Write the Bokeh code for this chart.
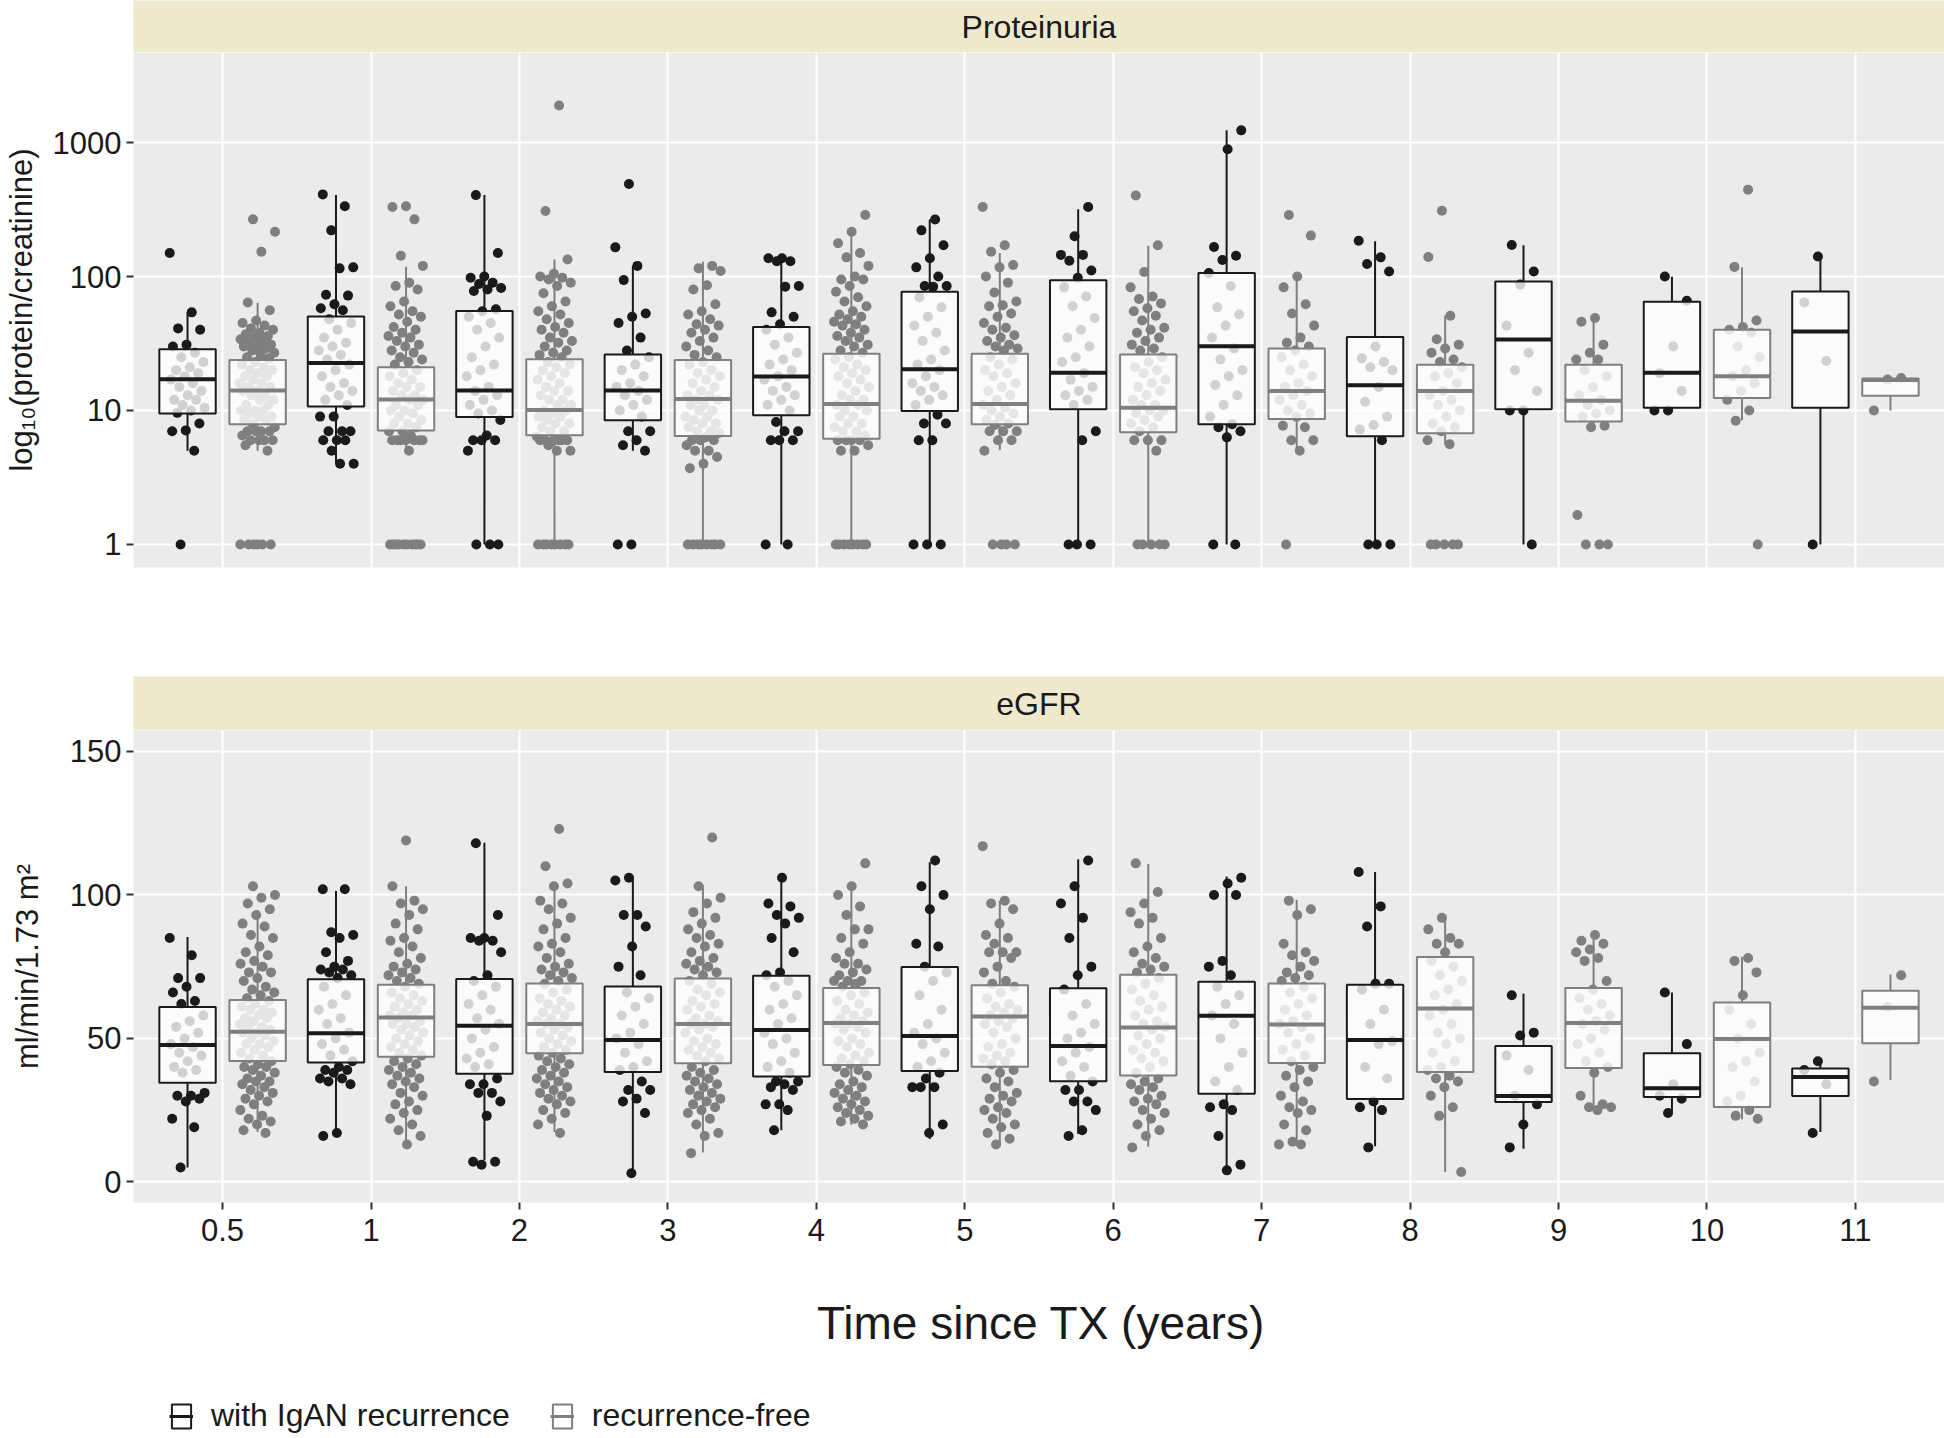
from bokeh.plotting import figure
from bokeh.models import (Range1d, FixedTicker, PrintfTickFormatter, Label,
                          Legend, LegendItem, ColumnDataSource)
from bokeh.layouts import column
from bokeh.embed import file_html
from bokeh.resources import INLINE

# ---------------- data ----------------
categories = ["0.5", "1", "2", "3", "4", "5", "6", "7", "8", "9", "10", "11"]
group_labels = ["with IgAN recurrence", "recurrence-free"]
panel_titles = ["Proteinuria", "eGFR"]

# Proteinuria box statistics (q1, median, q3, whisker low, whisker high)
prot_rec_q1 = [9.5, 10.7, 8.93, 8.44, 9.22, 9.9, 10.2, 7.9, 6.42, 10.2, 10.5, 10.5]
prot_rec_med = [17.1, 22.6, 14.1, 14.1, 17.9, 20.3, 19.1, 30.1, 15.4, 33.8, 19.1, 38.9]
prot_rec_q3 = [28.6, 50.2, 55.2, 26.2, 42, 76.8, 93.6, 106, 35.3, 91.8, 64.7, 77.3]
prot_rec_lo = [5.0, 4.06, 1, 5.0, 1, 1, 1, 1, 1, 1, 10, 1]
prot_rec_hi = [54, 405, 405, 120, 137, 266, 318, 1233, 183, 171, 99.7, 141]

prot_free_q1 = [7.9, 7.1, 6.54, 6.46, 6.14, 7.9, 6.87, 8.65, 6.75, 8.28, 12.4, 12.9]
prot_free_med = [14.1, 12.1, 10.1, 12.2, 11.2, 11.2, 10.5, 14, 14, 11.8, 18, 16.9]
prot_free_q3 = [23.8, 21, 24.1, 23.8, 26.5, 26.5, 26.2, 29, 21.9, 21.9, 40.1, 17.3]
prot_free_lo = [5.0, 5.0, 1, 1, 1, 5.07, 1, 5.0, 5.57, 7.7, 8.44, 10]
prot_free_hi = [63.5, 118, 134, 129, 216, 150, 170, 100, 51, 48, 117, 17.3]

# eGFR box statistics
egfr_rec_q1 = [34.5, 41.6, 37.7, 38.3, 36.7, 38.6, 35.1, 30.7, 28.9, 27.8, 29.6, 29.9]
egfr_rec_med = [47.7, 51.8, 54.4, 49.4, 52.9, 50.8, 47.3, 57.9, 49.4, 29.9, 32.6, 36.5]
egfr_rec_q3 = [60.9, 70.6, 70.7, 68.1, 71.8, 74.9, 67.5, 69.7, 68.7, 47.3, 44.8, 39.5]
egfr_rec_lo = [5.0, 15.6, 7.5, 3.5, 18, 14.9, 16.8, 4.4, 12.4, 11.5, 24.3, 17.4]
egfr_rec_hi = [85.3, 101.4, 118.2, 106.4, 106.4, 111.4, 112.4, 106.4, 108, 65.6, 66, 41.7]

egfr_free_q1 = [42.1, 43.6, 44.8, 41.3, 40.7, 40.1, 37.1, 41.4, 38.3, 39.7, 26.1, 48.3]
egfr_free_med = [52.3, 57.3, 55, 55, 55.4, 57.6, 53.8, 54.8, 60.4, 55.4, 49.8, 60.7]
egfr_free_q3 = [63.4, 68.7, 69.1, 70.9, 67.6, 68.5, 72.2, 69.1, 78.4, 67.6, 62.5, 66.6]
egfr_free_lo = [17.4, 13.1, 17.4, 10.2, 19.9, 12.7, 12.2, 13.1, 3.4, 25.5, 21.8, 35.5]
egfr_free_hi = [94.6, 103, 103, 103.3, 102.7, 98, 110.8, 98.3, 92.4, 85.6, 78.4, 72.2]

# individual observations (one list per time point)
prot_rec_pts = [
    [150, 54, 41, 40, 31, 30, 27, 25, 23, 21, 20, 19, 18, 17, 16, 15, 14, 13, 12, 12, 11, 10.5, 10, 9.6, 8, 7.1, 7, 5, 1],
    [410, 334, 221, 117, 115, 73, 72, 62, 58, 56, 48, 45, 40, 35, 32, 30, 28, 26, 24, 22, 20, 18, 16, 15, 14, 13, 12, 11, 9, 9, 7, 7, 7, 6, 6, 6, 5, 4, 4],
    [405, 150, 100, 98, 90, 88, 82, 80, 78, 57, 55, 50, 45, 40, 35, 30, 25, 22, 20, 18, 15, 14, 13, 12, 11, 10, 9.5, 8.5, 6.5, 6, 6, 6, 5, 1, 1, 1],
    [490, 165, 120, 94, 53, 50, 45, 35, 28, 25, 22, 20, 18, 16, 15, 14, 13, 12, 11, 10, 9, 7, 7, 6, 5.5, 5, 1, 1],
    [137, 137, 130, 130, 85, 84, 54, 50, 44, 40, 35, 31, 27, 24, 22, 20, 18, 17, 15, 14, 13, 12, 11, 10, 8.2, 7, 7, 6, 6, 6, 1, 1],
    [266, 221, 171, 137, 117, 100, 85, 85, 84, 70, 59, 50, 43, 38, 33, 28, 24, 22, 20, 18, 16, 15, 14, 13, 12, 11, 9.3, 8, 8, 6, 6, 1, 1, 1],
    [330, 200, 145, 145, 131, 111, 98, 83, 71, 60, 49, 40, 35, 30, 25, 23, 19, 17, 15, 14, 13, 12, 11, 7, 6, 1, 1, 1],
    [1233, 890, 166, 143, 133, 106, 85, 59, 52, 43, 35, 29, 24, 20, 18, 15.5, 13, 11, 9, 7.9, 7.5, 7, 6.3, 1, 1],
    [185, 139, 124, 109, 30, 24.5, 23, 21, 20, 15, 11.6, 9, 7.8, 7.2, 6, 1, 1, 1],
    [172, 109, 87, 43, 27, 20, 14, 10, 10, 1],
    [100, 66, 30, 19, 14, 10, 10],
    [141, 64, 23.4, 1],
]
prot_free_pts = [
    [267, 216, 153, 64, 56, 47, 45, 43, 41, 40, 38, 37, 36, 35, 34, 33, 32, 31, 30, 30, 29, 28, 27, 26, 25, 24.5, 23, 22, 21, 20, 20, 19, 18, 18, 17, 16, 16, 15, 15, 14, 14, 13, 13, 12, 12, 11, 11, 10, 10, 10, 9.5, 9, 9, 8.5, 8.5, 8, 7.5, 7, 7, 7, 7, 6.5, 6, 6, 6, 6, 5.5, 5, 1, 1, 1, 1, 1, 1],
    [334, 330, 267, 143, 120, 90, 85, 80, 65, 60, 55, 52, 50, 46, 42, 40, 38, 36, 35, 33, 31, 30, 28, 27, 25, 24, 23, 22, 20, 19, 18, 17, 16, 15, 15, 14, 13, 13, 12, 12, 11, 11, 10, 10, 9.5, 9, 8.5, 8, 8, 7.5, 7, 7, 6.5, 6, 6, 6, 6, 6, 6, 6, 5, 1, 1, 1, 1, 1, 1, 1, 1, 1, 1],
    [1888, 308, 134, 105, 100, 98, 95, 90, 85, 75, 65, 60, 55, 52, 48, 45, 42, 40, 38, 35, 33, 32, 30, 28, 27, 26, 25, 23, 22, 21, 20, 19, 18, 17, 16, 15, 14, 14, 13, 12, 12, 11, 11, 10, 10, 9.5, 9, 9, 8.5, 8, 8, 7.5, 7, 7, 6.4, 6, 6, 6, 6, 6, 6, 5.5, 5, 5, 1, 1, 1, 1, 1, 1, 1, 1],
    [120, 115, 110, 86, 80, 62, 55, 52, 48, 44, 43, 40, 38, 35, 33, 30, 28, 26, 25, 23, 22, 20, 19, 18, 17, 16, 15, 14, 13, 13, 12, 12, 11, 11, 10, 10, 9, 9, 8.5, 8, 8, 7.5, 7, 7, 6.8, 6.3, 6, 6, 6, 5.5, 5, 5, 4.5, 4, 3.7, 1, 1, 1, 1, 1, 1, 1, 1],
    [288, 216, 177, 150, 139, 120, 100, 95, 95, 85, 77, 70, 65, 60, 55, 52, 50, 48, 46, 44, 43, 40, 38, 36, 35, 33, 31, 30, 28, 27, 25, 24, 22, 21, 20, 19, 18, 17, 16, 15, 14, 13, 12, 12, 11, 11, 10, 10, 9, 9, 8, 8, 7.5, 7, 7, 6.5, 6, 6, 6, 6, 5.5, 5, 5, 1, 1, 1, 1, 1, 1, 1, 1],
    [330, 171, 153, 122, 117, 100, 90, 76, 65, 61, 60, 53, 50, 45, 41.5, 40, 36.5, 35, 33, 31, 30, 29, 28, 25, 24, 22, 20, 19, 18, 16, 15, 14, 13, 12, 11, 10.5, 10, 9.5, 9, 8.5, 8, 7.8, 7, 7, 7, 6, 6, 5, 1, 1, 1, 1],
    [402, 171, 108, 83, 71, 68, 63, 58, 55, 51, 47, 41.5, 40, 38, 35, 33, 31, 29, 28, 25, 23, 21, 20, 19, 17, 16, 15, 14, 13, 12, 11, 11, 10, 10, 9.5, 9, 8.5, 8, 7.5, 7, 6, 6, 6, 5, 1, 1, 1, 1, 1],
    [288, 202, 100, 83, 62, 53, 43, 35, 32, 30, 28, 25, 22, 20, 18, 16, 15, 14, 13, 12, 11, 10, 9.5, 9, 7.7, 7.5, 6, 6, 5, 1],
    [310, 140, 51, 34, 31, 29, 27, 24, 23, 21, 19, 18, 16, 14, 13, 12, 11, 10, 9, 8, 7.5, 7, 6, 5.6, 1, 1, 1, 1, 1],
    [49, 46, 31, 27, 24, 24, 20, 18, 15, 13, 12, 11, 10, 9.5, 9, 7.7, 7.5, 1.66, 1, 1, 1],
    [445, 118, 47, 42, 40, 38, 30, 25, 20, 18, 16, 14, 12, 10, 8.4, 1],
    [17.5, 17, 10],
]
egfr_rec_pts = [
    [85, 79, 71, 71, 68, 66, 63, 62, 58, 56, 54, 52, 50, 48, 47, 45, 44, 42, 40, 39, 38, 31, 30, 30, 29, 28, 22, 19, 5],
    [102, 102, 87, 86, 85, 80, 77, 75, 74, 74, 73, 72, 71, 68, 65, 62, 60, 57, 55, 52, 50, 48, 46, 44, 42, 40, 39, 39, 38, 36, 36, 35, 34, 17, 16],
    [118, 93, 85, 85, 84, 84, 80, 72, 70, 68, 65, 62, 60, 57, 55, 53, 50, 47, 45, 43, 41, 40, 36, 34, 34, 31, 31, 28, 23, 7, 7, 6],
    [106, 105, 93, 93, 89, 82, 75, 72, 66, 64, 61, 58, 55, 52, 50, 48, 45, 42, 40, 39, 35, 32, 32, 29, 28, 24, 3],
    [106, 97, 96, 93, 92, 90, 85, 80, 73, 72, 70, 68, 65, 62, 60, 57, 55, 52, 50, 48, 45, 42, 40, 38, 35, 35, 34, 33, 32, 27, 27, 25, 18],
    [112, 103, 100, 95, 83, 82, 75, 73, 70, 65, 60, 55, 52, 50, 48, 45, 42, 40, 38, 36, 33, 33, 33, 20, 17],
    [112, 103, 97, 92, 85, 75, 72, 67, 62, 58, 55, 52, 50, 47, 45, 42, 40, 37, 35, 32, 32, 28, 28, 25, 18, 16],
    [106, 104, 100, 100, 77, 75, 72, 68, 65, 62, 58, 55, 50, 45, 40, 35, 32, 27, 26, 25, 16, 6, 4],
    [108, 96, 89, 69, 69, 67, 60, 55, 49, 48, 40, 36, 28, 26, 25, 12],
    [65, 52, 51, 44, 39, 30, 27, 20, 12],
    [66, 48, 34, 30, 29, 24],
    [42, 39, 34, 17],
]
egfr_free_pts = [
    [103, 100, 99, 97, 95, 93, 90, 89, 86, 85, 82, 80, 79, 77, 76, 75, 73, 73, 71, 70, 68, 67, 66, 65, 64, 63, 62, 61, 60, 60, 59, 58, 57, 57, 56, 55, 54, 54, 53, 52, 52, 51, 50, 49, 48, 48, 47, 46, 45, 44, 43, 42, 41, 40, 40, 39, 38, 37, 36, 35, 35, 34, 33, 32, 31, 30, 29, 28, 27, 25, 23, 22, 21, 20, 18, 17],
    [119, 103, 98, 97, 95, 93, 90, 88, 85, 84, 82, 80, 78, 76, 75, 74, 73, 72, 71, 70, 69, 68, 66, 65, 64, 63, 62, 61, 60, 59, 58, 58, 57, 56, 55, 55, 54, 53, 52, 51, 50, 49, 48, 47, 46, 45, 44, 43, 42, 41, 40, 39, 38, 37, 36, 35, 34, 33, 31, 30, 28, 27, 25, 24, 22, 20, 18, 16, 13],
    [123, 110, 104, 103, 98, 97, 95, 92, 90, 88, 85, 83, 82, 80, 78, 76, 75, 74, 73, 72, 71, 70, 69, 67, 66, 64, 63, 62, 61, 60, 59, 58, 57, 56, 55, 55, 54, 53, 52, 51, 50, 49, 48, 47, 46, 45, 44, 43, 42, 41, 40, 39, 38, 37, 36, 35, 34, 33, 32, 31, 30, 29, 28, 27, 25, 24, 22, 20, 17],
    [120, 103, 99, 97, 94, 92, 90, 88, 86, 85, 83, 82, 80, 78, 77, 76, 75, 74, 73, 72, 70, 69, 67, 66, 65, 63, 62, 61, 60, 58, 57, 56, 55, 55, 54, 53, 52, 50, 49, 48, 47, 46, 45, 44, 43, 42, 40, 39, 38, 37, 36, 35, 34, 33, 32, 31, 30, 29, 28, 27, 26, 25, 24, 22, 20, 17, 16, 10],
    [111, 103, 100, 96, 93, 88, 88, 85, 83, 80, 78, 76, 76, 74, 73, 72, 70, 70, 70, 69, 68, 66, 65, 63, 62, 60, 59, 58, 57, 56, 55, 55, 54, 53, 52, 50, 49, 48, 47, 45, 44, 43, 42, 41, 40, 39, 38, 37, 35, 34, 33, 32, 31, 30, 29, 28, 27, 26, 25, 24, 23, 22, 21, 20],
    [117, 98, 97, 95, 90, 86, 85, 83, 80, 80, 80, 78, 75, 73, 70, 69, 68, 66, 64, 62, 61, 60, 59, 58, 57, 56, 55, 54, 52, 50, 48, 47, 45, 44, 43, 42, 41, 39, 38, 36, 35, 33, 31, 30, 29, 28, 26, 25, 24, 22, 20, 19, 17, 15, 13],
    [111, 101, 97, 94, 92, 90, 85, 82, 80, 78, 76, 75, 74, 73, 71, 69, 67, 65, 63, 61, 60, 58, 56, 55, 54, 53, 51, 50, 48, 46, 45, 43, 42, 40, 38, 36, 35, 34, 33, 32, 30, 29, 28, 27, 25, 24, 22, 20, 18, 16, 12],
    [98, 95, 93, 83, 80, 79, 77, 75, 73, 72, 71, 70, 68, 66, 64, 62, 60, 58, 56, 55, 54, 52, 50, 48, 46, 44, 42, 40, 39, 37, 35, 33, 30, 28, 26, 25, 24, 20, 18, 14, 13, 13],
    [92, 88, 85, 83, 83, 80, 77, 75, 72, 70, 67, 65, 62, 60, 58, 55, 52, 50, 48, 45, 42, 40, 39, 37, 36, 35, 33, 30, 26, 23, 3.4],
    [86, 84, 83, 81, 80, 78, 77, 70, 67, 64, 62, 60, 58, 56, 55, 53, 50, 48, 45, 42, 40, 38, 30, 27, 26, 26, 25],
    [78, 77, 73, 65, 60, 55, 50, 45, 42, 40, 35, 30, 28, 25, 23, 22],
    [72, 61, 35],
]

prot_ticks = [1, 10, 100, 1000]
egfr_ticks = [0, 50, 100, 150]

# ---------------- style ----------------
FONT = "Liberation Sans"
LEFT = 129
FRAME_W = 1815
PANEL_BG = "#EBEBEB"
STRIP_BG = "#EEE8CD"
REC_COL = "#1A1A1A"
FREE_COL = "#7F7F7F"
OFF = 0.236
BOX_W = 0.38
JIT = 0.12
X_RANGE = (0.4, 12.627)
STRIP_TEXT_X = 6.5


def bare_figure(h):
    f = figure(frame_width=FRAME_W, frame_height=h, x_range=Range1d(*X_RANGE),
               y_range=Range1d(0, 1), output_backend="svg", toolbar_location=None,
               min_border_left=LEFT, min_border_right=0, min_border_top=0,
               min_border_bottom=0, x_axis_location=None, y_axis_location=None)
    f.border_fill_color = "white"
    f.outline_line_color = None
    f.grid.visible = False
    return f


def make_strip(text, h):
    s = bare_figure(h)
    s.background_fill_color = STRIP_BG
    s.add_layout(Label(x=STRIP_TEXT_X, y=0.5, text=text,
                       text_align="center", text_baseline="middle",
                       text_font=FONT, text_font_size="32px", text_color="#1A1A1A"))
    return s


def style_axis(ax, tick_standoff, label_standoff):
    ax.axis_line_color = None
    ax.major_tick_line_color = "#333333"
    ax.major_tick_line_width = 2
    ax.major_tick_out = 7
    ax.major_tick_in = 0
    ax.minor_tick_line_color = None
    ax.major_label_text_font = FONT
    ax.major_label_text_font_size = "31px"
    ax.major_label_text_color = "#1A1A1A"
    ax.major_label_standoff = tick_standoff
    ax.axis_label_text_font = FONT
    ax.axis_label_text_font_style = "normal"
    ax.axis_label_text_color = "#1A1A1A"
    ax.axis_label_standoff = label_standoff


def box_source(stats, off):
    q1, med, q3, lo, hi = stats
    cx = [i + 1 + off for i in range(len(q1))]
    return ColumnDataSource(dict(x=cx,
                                 left=[c - BOX_W / 2 for c in cx],
                                 right=[c + BOX_W / 2 for c in cx],
                                 q1=q1, med=med, q3=q3, lo=lo, hi=hi))


def draw_groups(p, groups):
    # points first (jittered, dodged), then the boxes over them
    for gi, (pts, stats, col, off) in enumerate(groups):
        xs, ys = [], []
        for ci, vals in enumerate(pts):
            center = ci + 1 + off
            for k, v in enumerate(vals):
                frac = (k * 0.6180339887 + 0.37 * gi + 0.13 * ci) % 1.0
                xs.append(center + (frac - 0.5) * 2 * JIT)
                ys.append(v)
        p.scatter(xs, ys, size=10, fill_color=col, line_color=None)
    for gi, (pts, stats, col, off) in enumerate(groups):
        src = box_source(stats, off)
        p.segment(x0="x", y0="q3", x1="x", y1="hi", source=src,
                  line_color=col, line_width=2)
        p.segment(x0="x", y0="q1", x1="x", y1="lo", source=src,
                  line_color=col, line_width=2)
        p.quad(left="left", right="right", bottom="q1", top="q3", source=src,
               fill_color="white", fill_alpha=0.8, line_color=col, line_width=2)
        p.segment(x0="left", y0="med", x1="right", y1="med", source=src,
                  line_color=col, line_width=4)


def base_panel(frame_h, y_range, y_type, bottom_border, show_x):
    p = figure(frame_width=FRAME_W, frame_height=frame_h, x_range=Range1d(*X_RANGE),
               y_range=y_range, y_axis_type=y_type, output_backend="svg",
               toolbar_location=None, min_border_left=LEFT, min_border_right=0,
               min_border_top=0, min_border_bottom=bottom_border,
               x_axis_location="below" if show_x else None)
    p.background_fill_color = PANEL_BG
    p.border_fill_color = "white"
    p.outline_line_color = None
    p.xgrid.ticker = FixedTicker(ticks=list(range(1, len(categories) + 1)))
    p.grid.grid_line_color = "white"
    p.grid.grid_line_width = 2
    p.grid.minor_grid_line_color = None
    return p


# ---------------- top panel: proteinuria ----------------
strip1 = make_strip(panel_titles[0], 52)
p1 = base_panel(515, Range1d(10 ** -0.172, 10 ** 3.672), "log", 109, False)
p1.yaxis.ticker = FixedTicker(ticks=prot_ticks)
p1.ygrid.ticker = FixedTicker(ticks=prot_ticks)
p1.yaxis.formatter = PrintfTickFormatter(format="%d")
p1.yaxis.axis_label = "log\u2081\u2080(protein/creatinine)"
style_axis(p1.yaxis[0], 5, 11)
p1.yaxis.axis_label_text_font_size = "31px"
draw_groups(p1, [
    (prot_rec_pts, (prot_rec_q1, prot_rec_med, prot_rec_q3, prot_rec_lo, prot_rec_hi), REC_COL, -OFF),
    (prot_free_pts, (prot_free_q1, prot_free_med, prot_free_q3, prot_free_lo, prot_free_hi), FREE_COL, OFF),
])

# ---------------- bottom panel: eGFR ----------------
strip2 = make_strip(panel_titles[1], 54)
p2 = base_panel(472, Range1d(-7.2, 157.3), "linear", 160, True)
p2.yaxis.ticker = FixedTicker(ticks=egfr_ticks)
p2.ygrid.ticker = FixedTicker(ticks=egfr_ticks)
p2.yaxis.axis_label = "ml/min/1.73 m\u00b2"
style_axis(p2.yaxis[0], 5, 22)
p2.yaxis.axis_label_text_font_size = "31px"
p2.xaxis.ticker = FixedTicker(ticks=list(range(1, len(categories) + 1)))
p2.xaxis.major_label_overrides = {i + 1: c for i, c in enumerate(categories)}
p2.xaxis.axis_label = "Time since TX (years)"
style_axis(p2.xaxis[0], 9, 53)
p2.xaxis.axis_label_text_font_size = "46px"
rec_stats = (egfr_rec_q1, egfr_rec_med, egfr_rec_q3, egfr_rec_lo, egfr_rec_hi)
free_stats = (egfr_free_q1, egfr_free_med, egfr_free_q3, egfr_free_lo, egfr_free_hi)
draw_groups(p2, [
    (egfr_rec_pts, rec_stats, REC_COL, -OFF),
    (egfr_free_pts, free_stats, FREE_COL, OFF),
])

# ---------------- legend row ----------------
# key glyphs reuse the eGFR box data; those values lie outside this row's
# 0..1 y-range, so only the legend keys are visible here
lg = bare_figure(76)
lg.background_fill_color = "white"
items = []
for label, col, stats, off in zip(group_labels, [REC_COL, FREE_COL],
                                  [rec_stats, free_stats], [-OFF, OFF]):
    src = box_source(stats, off)
    kb = lg.quad(left="left", right="right", bottom="q1", top="q3", source=src,
                 fill_color="white", line_color=col, line_width=2)
    km = lg.segment(x0="left", y0="med", x1="right", y1="med", source=src,
                    line_color=col, line_width=3)
    items.append(LegendItem(label=label, renderers=[kb, km]))
legend = Legend(items=items, orientation="horizontal", location=(126, 4))
legend.label_text_font = FONT
legend.label_text_font_size = "32px"
legend.label_text_color = "#1A1A1A"
legend.glyph_width = 24
legend.glyph_height = 30
legend.label_standoff = 18
legend.spacing = 40
legend.padding = 0
legend.margin = 0
legend.border_line_color = None
legend.background_fill_alpha = 0
lg.add_layout(legend)

layout = column(strip1, p1, strip2, p2, lg, spacing=0)

with open("out.html", "w") as f:
    f.write(file_html(layout, INLINE))
